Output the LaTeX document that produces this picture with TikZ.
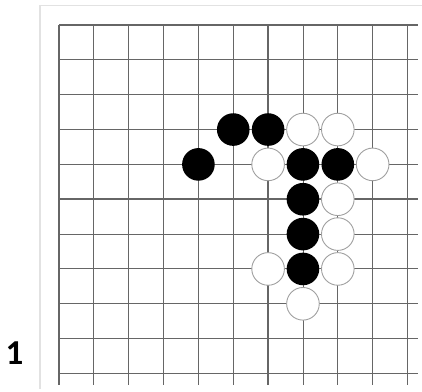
\documentclass[tikz,border=0pt]{standalone}
\usepackage{fontspec}
\usepackage{tikz}
\newfontfamily\numfont{Carlito}
\definecolor{gridline}{HTML}{666666}
\definecolor{boxline}{HTML}{E2E2E2}
\definecolor{stoneedge}{HTML}{A0A0A0}
\tikzset{
  thinline/.style={gridline,line width=0.9pt},
  thickline/.style={gridline,line width=1.7pt},
  blackstone/.style={fill=black},
  whitestone/.style={fill=white,draw=stoneedge,line width=0.9pt}
}

\begin{document}
\begin{tikzpicture}[x=34.85pt,y=-34.85pt]
  \useasboundingbox (-1.693,-0.717) rectangle (10.416,10.531);
  \draw[boxline,line width=1.6pt] (-0.55,10.445) -- (-0.55,-0.56) -- (10.6,-0.56);
  % board lines
  \foreach \i in {0,...,10} \draw[thinline] (\i,0) -- (\i,10.33);
  \foreach \j in {0,...,10} \draw[thinline] (0,\j) -- (10.3,\j);
  \foreach \i in {0,6,10} \draw[thickline] (\i,0) -- (\i,10.33);
  \foreach \j in {0,5,9} \draw[thickline] (0,\j) -- (10.3,\j);
  % stones
  \foreach \x/\y in {5/3,6/3,4/4,7/4,8/4,7/5,7/6,7/7}
    \fill[blackstone] (\x,\y) circle (0.468);
  \foreach \x/\y in {7/3,8/3,6/4,9/4,8/5,8/6,6/7,8/7,7/8}
    \filldraw[whitestone] (\x,\y) circle (0.468);
  \node[font=\numfont\bfseries\fontsize{35}{35}\selectfont,inner sep=0pt] (num) at (-1.277,9.41) {1};
\end{tikzpicture}
\end{document}
